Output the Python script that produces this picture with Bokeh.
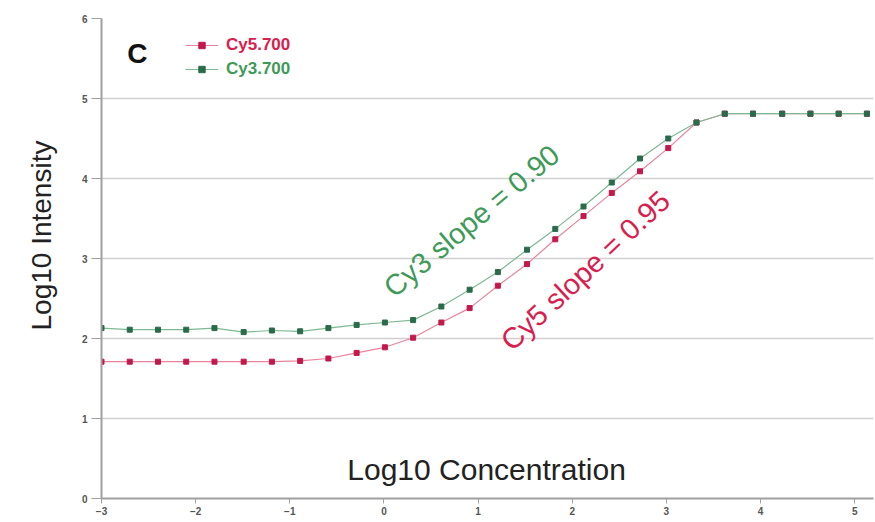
from bokeh.plotting import figure
from bokeh.models import Range1d, FixedTicker, Label, Legend, LegendItem, Title
from bokeh.embed import file_html
from bokeh.resources import INLINE

# Data
log_conc = [-3.00, -2.70, -2.40, -2.10, -1.80, -1.49, -1.19, -0.89, -0.59, -0.29,
            0.01, 0.31, 0.61, 0.91, 1.21, 1.52, 1.82, 2.12, 2.42, 2.72,
            3.02, 3.32, 3.62, 3.92, 4.23, 4.53, 4.83, 5.13]
cy5_intensity = [1.71, 1.71, 1.71, 1.71, 1.71, 1.71, 1.71, 1.72, 1.75, 1.82,
                 1.89, 2.01, 2.20, 2.38, 2.66, 2.93, 3.24, 3.53, 3.82, 4.09,
                 4.38, 4.70, 4.81, 4.81, 4.81, 4.81, 4.81, 4.81]
cy3_intensity = [2.13, 2.11, 2.11, 2.11, 2.13, 2.08, 2.10, 2.09, 2.13, 2.17,
                 2.20, 2.23, 2.40, 2.61, 2.83, 3.11, 3.37, 3.65, 3.95, 4.25,
                 4.50, 4.70, 4.81, 4.81, 4.81, 4.81, 4.81, 4.81]
x_ticks = [-3, -2, -1, 0, 1, 2, 3, 4, 5]
y_ticks = [0, 1, 2, 3, 4, 5, 6]
series_names = ["Cy5.700", "Cy3.700"]
slope_texts = ["Cy3 slope = 0.90", "Cy5 slope = 0.95"]

FONT = "Liberation Sans"
RED_LINE, RED_MARK, RED_TEXT = "#e8859c", "#c2184a", "#d8204e"
GRN_LINE, GRN_MARK, GRN_TEXT = "#7fb894", "#2b6a4a", "#3f9a5a"

p = figure(width=875, height=522, output_backend="svg", toolbar_location=None,
           x_range=Range1d(-3, 5.2), y_range=Range1d(0, 6),
           min_border_left=101, min_border_right=2, min_border_top=18,
           min_border_bottom=24)
p.outline_line_color = None
p.background_fill_color = "white"

# axes
for ax in (p.xaxis[0], p.yaxis[0]):
    ax.axis_line_color = "#a0a0a0"
    ax.axis_line_width = 2
    ax.major_tick_line_color = "#a0a0a0"
    ax.major_tick_line_width = 1
    ax.minor_tick_line_color = None
    ax.major_tick_in = 0
    ax.major_label_text_font = FONT
    ax.major_label_text_font_size = "10px"
    ax.major_label_text_font_style = "bold"
    ax.major_label_text_color = "#555555"

p.xaxis.ticker = FixedTicker(ticks=x_ticks)
p.yaxis.ticker = FixedTicker(ticks=y_ticks)
p.xaxis.major_tick_out = 5
p.xaxis.major_label_standoff = 3
p.yaxis.major_tick_out = 10
p.yaxis.major_label_standoff = 4

p.xgrid.grid_line_color = None
p.ygrid.grid_line_color = "#cfcfcf"
p.ygrid.grid_line_width = 1.5

# y-axis title (as a left-side title so it can sit off-centre like the original)
p.add_layout(Title(text="Log10 Intensity", align="left", offset=168,
                   text_font=FONT, text_font_size="28px",
                   text_font_style="normal", text_color="#222222",
                   standoff=44), "left")

# series
r_line = p.line(log_conc, cy5_intensity, line_color=RED_LINE, line_width=1.2)
r_pts = p.scatter(log_conc, cy5_intensity, marker="square", size=5,
                  fill_color=RED_MARK, line_color=RED_MARK)
g_line = p.line(log_conc, cy3_intensity, line_color=GRN_LINE, line_width=1.2)
g_pts = p.scatter(log_conc, cy3_intensity, marker="square", size=5,
                  fill_color=GRN_MARK, line_color=GRN_MARK)

# legends (one per series so each label keeps its colour)
for i, (rl, rp, col, loc) in enumerate([(r_line, r_pts, RED_TEXT, (84, 443)),
                                          (g_line, g_pts, GRN_TEXT, (84, 419))]):
    lg = Legend(items=[LegendItem(label=series_names[i], renderers=[rl, rp])],
                location=loc, orientation="vertical",
                label_text_font=FONT, label_text_font_size="17px",
                label_text_font_style="bold", label_text_color=col,
                glyph_width=33, glyph_height=16, label_height=16,
                label_standoff=8, padding=0, margin=0, spacing=0,
                background_fill_alpha=0, border_line_color=None)
    p.add_layout(lg)

# annotations
p.add_layout(Label(x=-2.62, y=5.56, text="C", text_font=FONT,
                   text_font_size="28px", text_font_style="bold",
                   text_color="#111111", text_align="center",
                   text_baseline="middle"))
p.add_layout(Label(x=1.09, y=0.36, text="Log10 Concentration", text_font=FONT,
                   text_font_size="30px", text_color="#222222",
                   text_align="center", text_baseline="middle"))
p.add_layout(Label(x=0.93, y=3.47, text=slope_texts[0], text_font=FONT,
                   text_font_size="29px", text_color=GRN_TEXT,
                   text_align="center", text_baseline="middle",
                   angle=40, angle_units="deg"))
p.add_layout(Label(x=2.14, y=2.85, text=slope_texts[1], text_font=FONT,
                   text_font_size="29px", text_color=RED_TEXT,
                   text_align="center", text_baseline="middle",
                   angle=43, angle_units="deg"))

open("out.html", "w").write(file_html(p, INLINE))
